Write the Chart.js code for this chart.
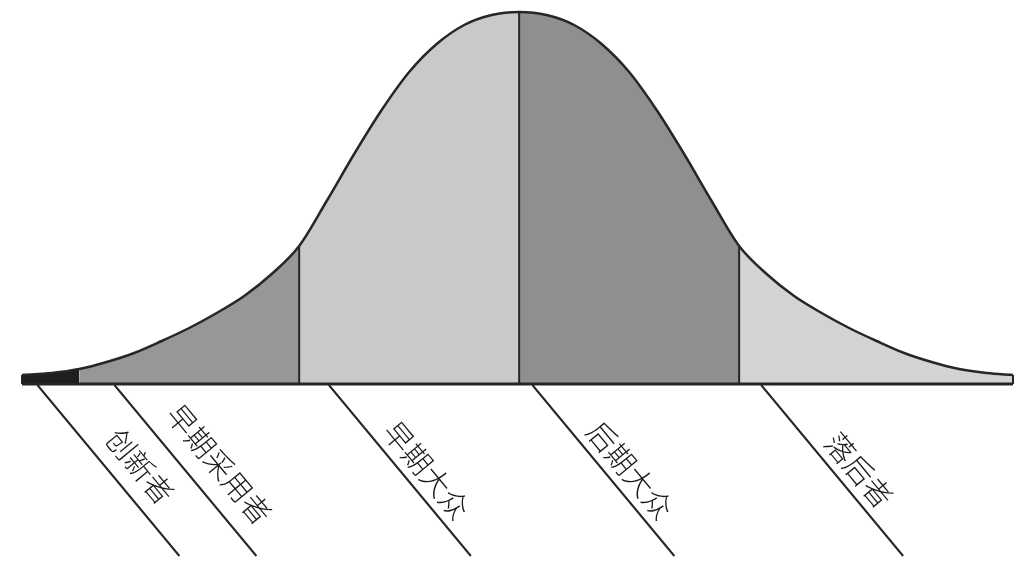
<!DOCTYPE html>
<html>
<head>
<meta charset="utf-8">
<script src="https://cdn.jsdelivr.net/npm/chart.js@4"></script>
<style>
  html, body { margin: 0; padding: 0; background: #fff; }
  #wrap { width: 1029px; height: 574px; position: relative; }
</style>
</head>
<body>
<div id="wrap"><canvas id="chart"></canvas></div>
<script>
// curve, x in standard deviations from the mean
const curveX = [-2.26, -2.125, -2, -1.875, -1.75, -1.625, -1.5, -1.375, -1.25, -1.125, -1,
  -0.875, -0.75, -0.625, -0.5, -0.375, -0.25, -0.125, 0, 0.125, 0.25, 0.375, 0.5, 0.625,
  0.75, 0.875, 1, 1.125, 1.25, 1.375, 1.5, 1.625, 1.75, 1.875, 2, 2.125, 2.245];
const curveY = [9, 11, 15, 22, 31, 43, 56, 71, 88, 110, 138,
  183, 230, 274, 312, 340, 359, 369, 372, 369, 359, 340, 312, 274,
  230, 183, 138, 110, 88, 71, 56, 43, 31, 22, 15, 11, 9];

// group boundaries and names
const groupBounds = [-2.26, -2, -1, 0, 1, 2.245];
const groupNames = ["创新者", "早期采用者", "早期大众", "后期大众", "落后者"];
const groupColors = ["#1e1e1e", "#979797", "#c9c9c9", "#8f8f8f", "#d3d3d3"];
const dividers = [-1, 0, 1];

// where each slanted label line leaves the baseline
const labelX = [-2.19, -1.84, -0.865, 0.06, 1.1];
const labelPerp = [27, 30, 21, 21, 21];

const pts = curveX.map((x, i) => ({ x: x, y: curveY[i] }));
const heightAt = (x) => curveY[curveX.indexOf(x)];

const datasets = [];
const ink = "#262626";

// shaded groups (drawn underneath)
for (let g = 0; g < groupNames.length; g++) {
  const a = groupBounds[g], b = groupBounds[g + 1];
  datasets.push({
    data: pts.filter((p) => p.x >= a && p.x <= b),
    fill: "origin",
    backgroundColor: groupColors[g],
    borderWidth: 0,
    pointRadius: 0,
    cubicInterpolationMode: "monotone",
    clip: false,
    order: 10,
  });
}

// vertical dividers + the two end edges
[...dividers, groupBounds[0], groupBounds[groupBounds.length - 1]].forEach((d) => {
  datasets.push({
    data: [{ x: d, y: 0 }, { x: d, y: heightAt(d) }],
    borderColor: ink,
    borderWidth: 2,
    pointRadius: 0,
    fill: false,
    clip: false,
    order: 2,
  });
});

// outline
datasets.push({
  data: pts,
  borderColor: ink,
  borderWidth: 2.5,
  pointRadius: 0,
  fill: false,
  cubicInterpolationMode: "monotone",
  clip: false,
  order: 1,
});

// baseline
datasets.push({
  data: [{ x: groupBounds[0], y: 0 }, { x: groupBounds[groupBounds.length - 1], y: 0 }],
  borderColor: ink,
  borderWidth: 3,
  pointRadius: 0,
  fill: false,
  clip: false,
  order: 0,
});

const slantLabels = {
  id: "slantLabels",
  afterDraw(chart) {
    const ctx = chart.ctx;
    const xs = chart.scales.x, ys = chart.scales.y;
    const y0 = ys.getPixelForValue(0) + 1;
    const dx = 142, dy = 171;
    const len = Math.hypot(dx, dy);
    const ux = dx / len, uy = dy / len;
    const ang = Math.atan2(dy, dx);
    ctx.save();
    ctx.strokeStyle = ink;
    ctx.lineWidth = 2;
    ctx.fillStyle = "#1a1a1a";
    ctx.font = '300 29px "Noto Sans CJK SC", "Noto Sans CJK JP", sans-serif';
    ctx.textAlign = "center";
    ctx.textBaseline = "middle";
    labelX.forEach((lx, i) => {
      const x0 = xs.getPixelForValue(lx);
      ctx.beginPath();
      ctx.moveTo(x0, y0);
      ctx.lineTo(x0 + dx, y0 + dy);
      ctx.stroke();
      const along = 128;
      const cx = x0 + ux * along + uy * labelPerp[i];
      const cy = y0 + uy * along - ux * labelPerp[i];
      ctx.save();
      ctx.translate(cx, cy);
      ctx.rotate(ang);
      ctx.fillText(groupNames[i], 0, 0);
      ctx.restore();
    });
    ctx.restore();
  },
};

new Chart(document.getElementById("chart"), {
  type: "line",
  data: { datasets },
  options: {
    responsive: true,
    maintainAspectRatio: false,
    animation: false,
    events: [],
    layout: { padding: { left: 22, right: 16, top: 12, bottom: 190 } },
    scales: {
      x: { type: "linear", display: false, min: groupBounds[0], max: groupBounds[groupBounds.length - 1] },
      y: { display: false, min: 0, max: 372 },
    },
    plugins: { legend: { display: false }, tooltip: { enabled: false } },
  },
  plugins: [slantLabels],
});
</script>
</body>
</html>
